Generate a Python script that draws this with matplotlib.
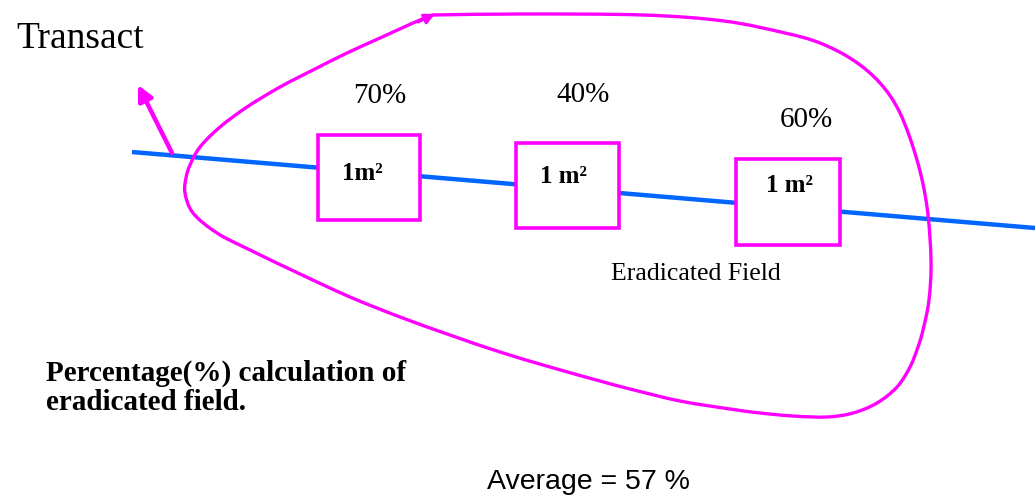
import numpy as np
import matplotlib.pyplot as plt
import matplotlib.patches as mpatches
from matplotlib.path import Path

# values shown on the diagram
percent_labels = ['70%', '40%', '60%']
box_labels = ['1m\u00b2', '1 m\u00b2', '1 m\u00b2']
average_label = 'Average = 57 %'

# layout (pixel coordinates, y grows downward)
box_left = [318, 516, 736]
box_top = [135, 143, 159]
box_w = [102, 103, 104]
box_h = [85, 85, 86]
box_text_x = [362, 564, 790]
box_text_y = [180, 183, 192]
pct_x = [380, 583, 806]
pct_y = [103, 102, 127]

transect_x = [132, 1035]
transect_y = [152, 228]

# traced outline of the eradicated field (clockwise from the arrow tip)
loop_x = [432, 521, 643, 724, 785, 820, 853, 880, 900, 917,
          927, 931, 929, 923, 918, 910, 897, 877, 853, 827,
          793, 760, 730, 680, 630, 600, 550, 500, 450, 400,
          350, 300, 250, 217, 193, 185, 186, 190, 200, 220,
          247, 280, 313, 347, 380, 413, 432]
loop_y = [15, 14, 15, 21, 33, 43, 60, 83, 113, 160,
          207, 260, 300, 330, 347, 367, 387, 403, 413, 417,
          416, 413, 409, 401, 389, 381, 367, 352, 335, 317,
          297, 274, 250, 233, 213, 193, 178, 165, 147, 127,
          107, 87, 70, 53, 38, 23, 15]

magenta = '#ff00ff'
blue = '#0066ff'
serif = 'Liberation Serif'
sans = 'Liberation Sans'

fig = plt.figure(figsize=(10.35, 4.96), dpi=100)
ax = fig.add_axes([0, 0, 1, 1])
ax.set_xlim(0, 1035)
ax.set_ylim(496, 0)
ax.axis('off')

# transect line
ax.plot(transect_x, transect_y, color=blue, linewidth=3.2, solid_capstyle='butt', zorder=1)

# field outline as a smooth bezier path through the traced points
pts = np.column_stack([loop_x, loop_y]).astype(float)
n = len(pts)
verts = [pts[0]]
codes = [Path.MOVETO]
for i in range(n - 1):
    p1 = pts[i]
    p2 = pts[i + 1]
    p0 = pts[i - 1] if i > 0 else 2 * p1 - p2
    p3 = pts[i + 2] if i + 2 < n else 2 * p2 - p1
    verts += [p1 + (p2 - p0) / 6, p2 - (p3 - p1) / 6, p2]
    codes += [Path.CURVE4] * 3
ax.add_patch(mpatches.PathPatch(Path(verts, codes), facecolor='none',
                                edgecolor=magenta, linewidth=2.4, zorder=2))
ax.annotate('', xy=(435, 14), xytext=(418, 22),
            arrowprops=dict(arrowstyle='-|>,head_length=0.6,head_width=0.3',
                            color=magenta, lw=2.2, shrinkA=0, shrinkB=0))

# pointer to transect
ax.annotate('', xy=(138, 85), xytext=(172, 153),
            arrowprops=dict(arrowstyle='-|>,head_length=0.9,head_width=0.45',
                            color=magenta, lw=3.2, shrinkA=0, shrinkB=0))

# quadrats
for i in range(len(box_labels)):
    rect = mpatches.Rectangle((box_left[i], box_top[i]), box_w[i], box_h[i],
                              facecolor='white', edgecolor=magenta, linewidth=2.6, zorder=3)
    ax.add_patch(rect)
    ax.text(box_text_x[i], box_text_y[i], box_labels[i], family=serif, weight='bold',
            fontsize=18, ha='center', va='baseline', zorder=4)
    ax.text(pct_x[i], pct_y[i], percent_labels[i], family=serif, fontsize=21,
            ha='center', va='baseline')

ax.text(16, 48, 'Transact', family=serif, fontsize=27, ha='left', va='baseline')
ax.text(611, 280, 'Eradicated Field', family=serif, fontsize=18.5, ha='left', va='baseline')
ax.text(46, 381, 'Percentage(%) calculation of', family=serif, weight='bold',
        fontsize=21, ha='left', va='baseline')
ax.text(46, 410, 'eradicated field.', family=serif, weight='bold',
        fontsize=21, ha='left', va='baseline')
ax.text(487, 489, average_label, family=sans, fontsize=20.5, ha='left', va='baseline')

fig.savefig('out.png', dpi=100)
